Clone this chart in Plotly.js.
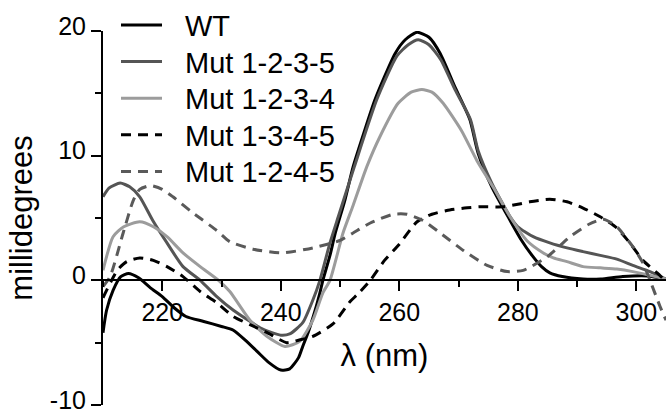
<!DOCTYPE html>
<html>
<head>
<meta charset="utf-8">
<script src="https://cdn.plot.ly/plotly-3.0.1.min.js"></script>
<style>html,body{margin:0;padding:0;background:#fff;}#chart{width:666px;height:416px;}</style>
</head>
<body>
<div id="chart"></div>
<script>
// Series names
const seriesNames = ["WT", "Mut 1-2-3-5", "Mut 1-2-3-4", "Mut 1-3-4-5", "Mut 1-2-4-5"];

// WT
const wtX = [210, 210.6, 211.7, 213, 214.3, 216, 218, 220, 222, 224, 227, 230, 232, 234, 236, 238, 240, 241.5, 243, 243.7, 244.6, 245.8, 246.6, 247.1, 248.3, 249.2, 250.8, 252.2, 254, 255.9, 259.3, 261, 263, 265, 266.9, 269.4, 271.9, 273.3, 275.6, 278.7, 280.5, 282.4, 284, 285.4, 287.5, 291, 294, 297.7, 301.8, 305];
const wtY = [-4.2, -2.4, -0.8, 0.3, 0.55, 0.2, -0.6, -1.3, -2.2, -2.9, -3.3, -3.7, -4.0, -4.8, -5.7, -6.6, -7.2, -7.1, -6.2, -5.3, -4.2, -2.4, -1.0, 0, 2.0, 3.8, 6.4, 9.1, 11.8, 14.5, 18.2, 19.3, 19.9, 19.5, 18.2, 15.5, 12.9, 10.2, 7.5, 4.8, 3.3, 2.0, 1.1, 0.6, 0.3, 0.1, 0.1, 0.3, 0.35, 0.1];

// Mut 1-2-3-5
const m1235X = [210, 211, 212.9, 214.5, 216.2, 218.4, 220.8, 223.5, 226.4, 229.2, 232, 234.5, 236.5, 238.5, 240, 241.5, 243.7, 245.4, 246.6, 248.3, 249.7, 252.4, 256.2, 259.6, 261.5, 263.2, 265, 267, 269.4, 272, 273.3, 275.6, 278.7, 280, 282.6, 285.4, 288.3, 291, 293.9, 296.7, 299.4, 302.3, 305];
const m1235Y = [6.7, 7.4, 7.8, 7.5, 6.7, 4.8, 3.0, 1.1, 0, -1.3, -2.4, -3.2, -3.8, -4.2, -4.4, -4.3, -3.4, -1.6, 0, 3.0, 5.1, 9.1, 14.5, 18.0, 18.9, 19.3, 18.9, 17.7, 15.3, 12.9, 10.4, 7.8, 5.1, 4.3, 3.5, 3.0, 2.6, 2.3, 2.0, 1.7, 1.2, 0.7, 0.1];

// Mut 1-2-3-4
const m1234X = [210, 211.7, 213.5, 216.2, 218.5, 220.8, 223.5, 226.4, 229.5, 231.4, 234.8, 237.7, 240.7, 243.2, 245.4, 247.1, 248.3, 250.5, 252.2, 254.5, 256.7, 259.8, 262, 263.8, 265.5, 267.4, 270.5, 273.1, 275.8, 278.7, 281.5, 284.3, 286, 288.3, 291, 293.9, 296.7, 299.4, 302.3, 305];
const m1234Y = [0.8, 3.5, 4.3, 4.7, 4.3, 3.5, 2.2, 1.1, 0, -0.9, -3.2, -4.5, -5.3, -4.9, -3.2, -1.0, 0, 3.8, 6.0, 9.1, 11.5, 14.2, 15.1, 15.3, 15.1, 14.2, 12.0, 9.6, 7.5, 5.1, 3.2, 2.2, 1.8, 1.5, 1.1, 1.0, 0.9, 0.7, 0.4, 0.1];

// Mut 1-3-4-5
const m1345X = [210, 212.4, 214, 216.2, 218.5, 220.8, 223.5, 226.4, 229.2, 232, 235, 237.7, 241, 243, 245.4, 248.8, 251.7, 253, 255.1, 257.5, 260, 263, 265.5, 268, 271, 273.6, 277.5, 280, 282, 285.4, 288.3, 291, 293.9, 296.7, 298.9, 301.1, 303.5, 305];
const m1345Y = [-1.4, 0.8, 1.5, 1.8, 1.6, 1.1, 0.3, -0.9, -1.8, -2.9, -3.6, -4.2, -5.0, -4.8, -4.5, -3.5, -1.7, -1.1, 0, 1.6, 2.9, 4.7, 5.3, 5.6, 5.8, 5.9, 5.9, 6.1, 6.3, 6.5, 6.3, 5.8, 5.1, 4.2, 3.0, 1.6, 0.6, -0.1];

// Mut 1-2-4-5
const m1245X = [210, 211.2, 213.4, 215.1, 216.2, 218, 220, 221.8, 225.2, 229.2, 231.4, 235.3, 240.2, 245.4, 250, 252.2, 255.1, 259, 261.3, 264, 266.9, 270.8, 274.8, 278.2, 280.9, 285, 288.8, 292, 294.4, 296.5, 299.4, 301.1, 302.3, 304, 305];
const m1245Y = [-0.5, 0.3, 3.8, 6.4, 7.3, 7.6, 7.3, 6.7, 5.4, 4.0, 3.1, 2.5, 2.2, 2.6, 3.2, 3.8, 4.6, 5.3, 5.3, 4.8, 3.8, 2.4, 1.2, 0.7, 0.8, 1.9, 3.5, 4.5, 4.9, 4.4, 2.7, 1.4, 0, -2.1, -3.2];

// Axis ticks
const xTickVals = [220, 240, 260, 280, 300];
const yTickVals = [-10, 0, 10, 20];
const yTickText = ["-10", "0", "10", "20"];

const FONT = "Liberation Sans, Arial, Helvetica, sans-serif";
const styles = [
  {color: "#000000", dash: "solid"},
  {color: "#555555", dash: "solid"},
  {color: "#9c9c9c", dash: "solid"},
  {color: "#000000", dash: "10px,7px"},
  {color: "#5a5a5a", dash: "10px,7px"}
];
const xs = [wtX, m1235X, m1234X, m1345X, m1245X];
const ys = [wtY, m1235Y, m1234Y, m1345Y, m1245Y];

const traces = seriesNames.map((n, i) => ({
  type: "scatter", mode: "lines", name: n, x: xs[i], y: ys[i], showlegend: false,
  line: {color: styles[i].color, width: 3, dash: styles[i].dash, shape: "spline", smoothing: 0.6}
}));

// Key (legend) drawn in paper coordinates of the plot area
const plotL = 103, plotW = 563, plotT = 31, plotH = 374;
const px2x = p => (p - plotL) / plotW;
const py2y = p => (plotT + plotH - p) / plotH;
const keyRowY = i => 25 + i * 36.6;
const shapes = seriesNames.map((n, i) => ({
  type: "line", xref: "paper", yref: "paper",
  x0: px2x(121), x1: px2x(162), y0: py2y(keyRowY(i)), y1: py2y(keyRowY(i)),
  line: {color: styles[i].color, width: 3, dash: styles[i].dash}
}));
const annotations = seriesNames.map((n, i) => ({
  text: n, xref: "paper", yref: "paper", x: px2x(183), y: py2y(keyRowY(i) + 1),
  xanchor: "left", yanchor: "middle", showarrow: false,
  font: {family: FONT, size: 29, color: "#000"}
}));

const layout = {
  width: 666, height: 416,
  margin: {l: 103, r: 0, t: 31, b: 11},
  paper_bgcolor: "#fff", plot_bgcolor: "#fff",
  font: {family: FONT, size: 25, color: "#000"},
  showlegend: false,
  shapes: shapes,
  annotations: annotations,
  xaxis: {
    range: [210, 305], anchor: "free", position: 1/3,
    showline: true, linecolor: "#000", linewidth: 2,
    showgrid: false, zeroline: false,
    tickmode: "array", tickvals: xTickVals,
    ticks: "outside", ticklen: 10, tickwidth: 2, tickcolor: "#000",
    minor: {dtick: 10, tick0: 210, ticks: "outside", ticklen: 6, tickwidth: 2, tickcolor: "#000", showgrid: false},
    tickfont: {family: FONT, size: 25, color: "#000"},
    ticklabeloverflow: "allow",
    title: {text: "λ (nm)", font: {family: FONT, size: 31, color: "#000"}, standoff: 18}
  },
  yaxis: {
    range: [-10, 20],
    showline: true, linecolor: "#000", linewidth: 2,
    showgrid: false, zeroline: false,
    tickmode: "array", tickvals: yTickVals, ticktext: yTickText,
    ticks: "outside", ticklen: 10, tickwidth: 2, tickcolor: "#000",
    minor: {dtick: 5, tick0: 0, ticks: "outside", ticklen: 6, tickwidth: 2, tickcolor: "#000", showgrid: false},
    tickfont: {family: FONT, size: 25, color: "#000"},
    ticklabeloverflow: "allow",
    ticklabelshift: -5,
    title: {text: "millidegrees", font: {family: FONT, size: 31, color: "#000"}, standoff: 8}
  }
};

Plotly.newPlot("chart", traces, layout, {staticPlot: true, displayModeBar: false});
</script>
</body>
</html>
